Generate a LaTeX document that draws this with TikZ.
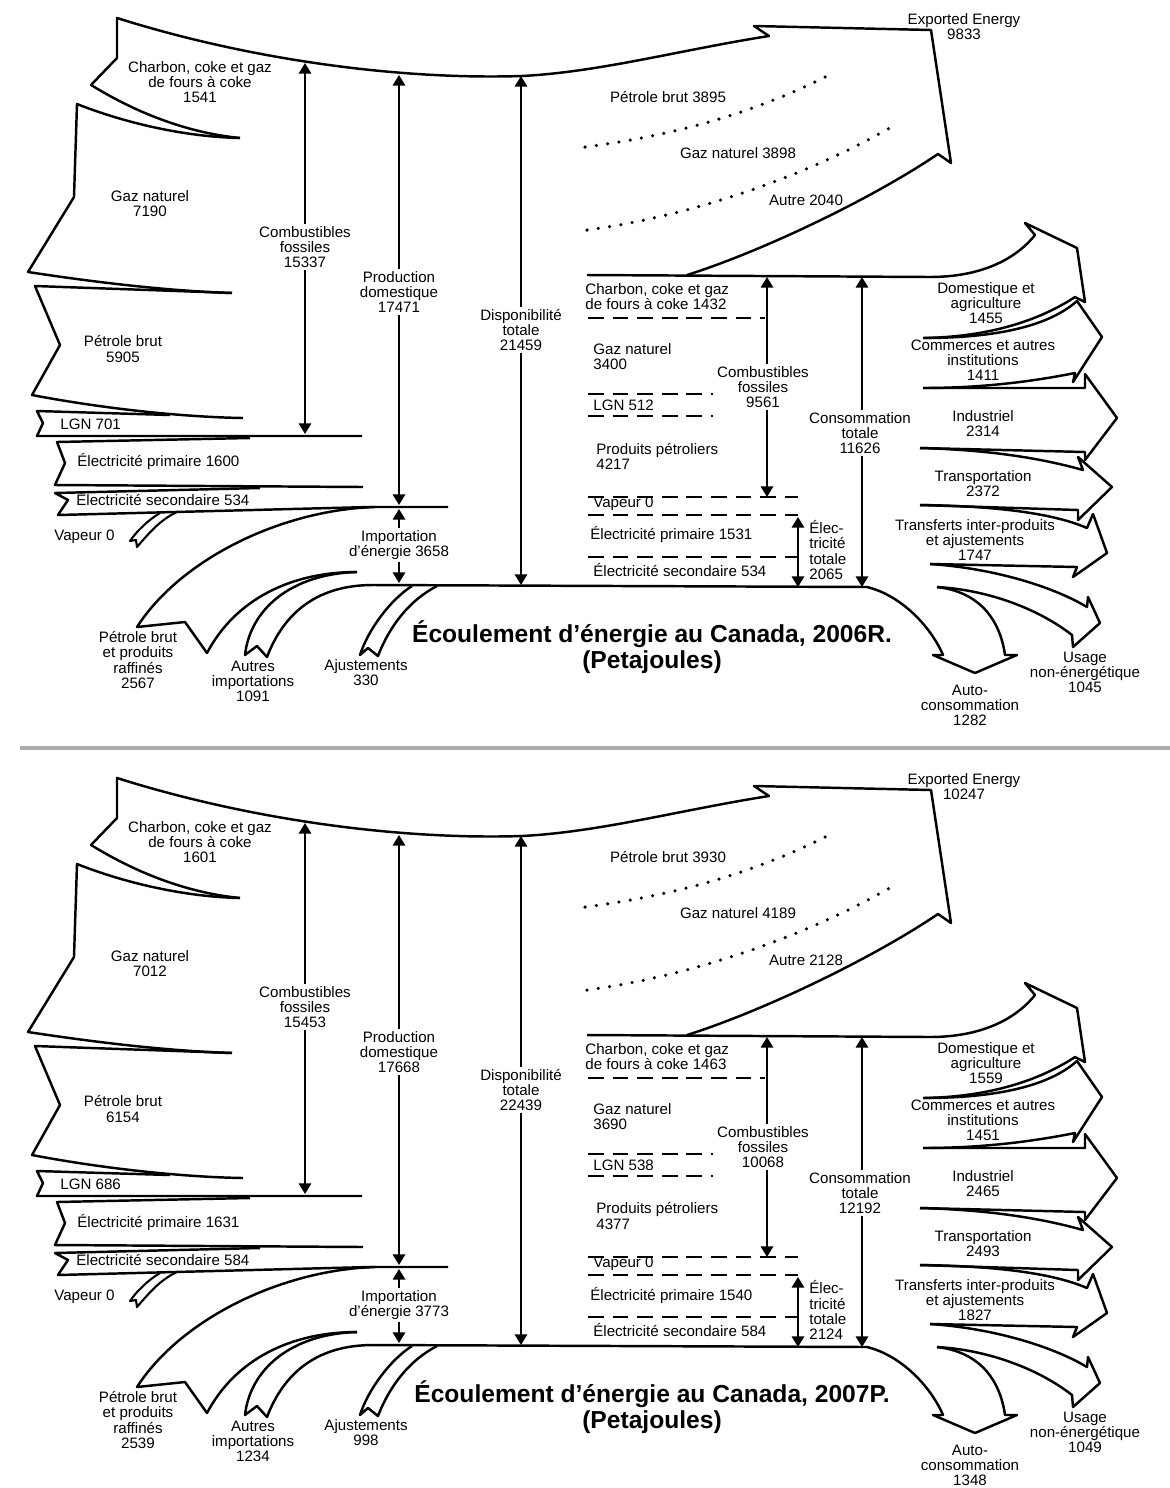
\documentclass[tikz,border=0pt]{standalone}
\usepackage{fontspec}
\setmainfont{Liberation Sans}
\usetikzlibrary{arrows.meta}
\newcommand\lbfont{\fontsize{8.6}{8.6}\selectfont}
\newcommand\ttlfont{\fontsize{14}{14.5}\selectfont\bfseries}
\tikzset{
 outl/.style={line width=1.4pt, line join=round},
 varr/.style={line width=1.1pt, {Triangle[length=6pt,width=7pt]}-{Triangle[length=6pt,width=7pt]}},
 dashln/.style={line width=1.2pt, dash pattern=on 9pt off 5pt},
 dotln/.style={line width=2pt, dash pattern=on 0pt off 6.5pt, line cap=round},
 lbl/.style={font=\lbfont, align=center, inner sep=1pt},
 lblw/.style={font=\lbfont, align=left, anchor=west, inner sep=0pt},
 bglbl/.style={lbl, fill=white, inner sep=1.5pt},
 ttl/.style={font=\ttlfont, align=center, inner sep=0pt},
}
\newcommand\drawpanel[2]{%
\begin{scope}[shift={(0,#1)}, name prefix=#2-]
 % top curve, Charbon inflow and exported arrow
 \draw[outl] (240,138) .. controls (190,133) and (140,115) .. (91,85) -- (117,58) -- (117,18)
   .. controls (250,60) and (400,80) .. (522,76) .. controls (600,72) and (680,50) .. (769,36)
   -- (754,26) -- (931,30) -- (951,163) -- (938,154)
   .. controls (870,200) and (760,252) .. (687,275);
 % Gaz naturel
 \draw[outl] (240,138) .. controls (190,137) and (130,125) .. (77,104) -- (74,197) -- (28,272) .. controls (100,283) and (170,291) .. (232,293);
 % Petrole brut
 \draw[outl] (232,293) .. controls (150,290) and (90,288) .. (35,286) -- (60,345) -- (32,395) .. controls (100,408) and (180,417) .. (243,418);
 % LGN
 \draw[outl] (170,415) -- (37,411) -- (43,423) -- (37,436) -- (362,436);
 % Electricite primaire
 \draw[outl] (250,438) -- (57,442) -- (65,463) -- (55,485) -- (363,487);
 % Electricite secondaire
 \draw[outl] (260,488) -- (55,493) -- (68,500) -- (58,515) -- (370,507) -- (448,507);
 % Vapeur
 \draw[outl, line width=1.2pt] (160,513) .. controls (148,520) and (136,532) .. (130,541) -- (136,540) -- (137,547) .. controls (150,532) and (160,520) .. (177,512);
 % Petrole brut et produits raffines
 \draw[outl] (375,507) .. controls (280,510) and (180,560) .. (137,627) -- (185,622) -- (207,653) .. controls (235,600) and (290,572) .. (357,572);
 % Autres importations
 \draw[outl] (357,572) .. controls (290,574) and (250,610) .. (245,655) -- (257,646) -- (267,657) .. controls (285,610) and (320,585) .. (373,585);
 % bottom line and auto-consommation
 \draw[outl] (373,585) -- (867,587) .. controls (900,595) and (930,625) .. (943,655) -- (933,655) -- (975,673) -- (1017,655) -- (1005,655) .. controls (1000,620) and (980,592) .. (937,587);
 % Ajustements
 \draw[outl] (412,586) .. controls (390,600) and (368,630) .. (360,655) -- (368,648) -- (378,656) .. controls (390,625) and (410,600) .. (437,586);
 % right main line and Domestique
 \draw[outl] (587,275) -- (930,277) .. controls (980,277) and (1015,260) .. (1035,235) -- (1025,223) -- (1077,248) -- (1085,302) -- (1075,297) .. controls (1040,320) and (990,337) .. (923,338);
 % Commerces
 \draw[outl] (923,338) .. controls (1000,338) and (1050,325) .. (1077,301) -- (1102,337) -- (1073,382) -- (1075,373) .. controls (1030,382) and (980,388) .. (923,388);
 % Industriel
 \draw[outl] (923,388) -- (1085,388) -- (1085,374) -- (1117,418) -- (1085,460) -- (1085,452) -- (920,448);
 % Transportation
 \draw[outl] (920,448) .. controls (990,450) and (1040,458) .. (1083,470) -- (1078,457) -- (1112,487) -- (1078,520) -- (1078,510) -- (920,505);
 % Transferts
 \draw[outl] (920,505) .. controls (990,506) and (1050,512) .. (1087,528) -- (1093,514) -- (1107,553) -- (1073,577) -- (1077,567) -- (930,564);
 % Usage non-energetique
 \draw[outl] (930,564) .. controls (990,568) and (1050,585) .. (1087,607) -- (1088,597) -- (1100,623) -- (1073,647) -- (1072,635) .. controls (1040,610) and (990,590) .. (937,587);
 % dotted separators in exports
 \draw[dotln] (585,147) .. controls (680,135) and (760,110) .. (827,76);
 \draw[dotln] (587,230) .. controls (700,215) and (820,170) .. (898,123);
 % dashed separators
 \draw[dashln] (588,318) -- (765,318);
 \draw[dashln] (588,394) -- (713,394);
 \draw[dashln] (588,416) -- (713,416);
 \draw[dashln] (588,497) -- (798,497);
 \draw[dashln] (588,515) -- (798,515);
 \draw[dashln] (588,557) -- (798,557);
 % arrow end points
 \coordinate (cft) at (305,63);  \coordinate (cfb) at (305,434);
 \coordinate (pdt) at (399,75);  \coordinate (pdb) at (399,505);
 \coordinate (imt) at (399,509); \coordinate (imb) at (399,583);
 \coordinate (dtt) at (521,76);  \coordinate (dtb) at (521,585);
 \coordinate (rct) at (767,277); \coordinate (rcb) at (767,497);
 \coordinate (ctt) at (862,277); \coordinate (ctb) at (862,587);
 \coordinate (ett) at (798,517); \coordinate (etb) at (798,587);
 \draw[varr] (cft) -- (cfb);
 \draw[varr] (pdt) -- (pdb);
 \draw[varr] (imt) -- (imb);
 \draw[varr] (dtt) -- (dtb);
 \draw[varr] (rct) -- (rcb);
 \draw[varr] (ctt) -- (ctb);
 \draw[varr] (ett) -- (etb);
 % labels on arrows
 \node[bglbl] (cfl) at (305,247) {Combustibles\\fossiles\\\vCF};
 \node[bglbl] (pdl) at (399,292) {Production\\domestique\\\vPD};
 \node[bglbl] (dtl) at (521,330) {Disponibilité\\totale\\\vDT};
 \node[bglbl] (iml) at (399,545) {Importation\\d’énergie \vImp};
 \node[bglbl] (rcl) at (763,387) {Combustibles\\fossiles\\\vRCF};
 \node[bglbl] (ctl) at (860,433) {Consommation\\totale\\\vCT};
 \node[lblw] (etl) at (809,550) {Élec-\\tricité\\totale\\\vET};
 % left labels
 \node[lbl] (lch) at (200,82) {Charbon, coke et gaz\\de fours à coke\\\vCharbon};
 \node[lbl] (lgz) at (150,204) {Gaz naturel\\\vGaz};
 \node[lbl] (lpb) at (123,349) {Pétrole brut\\\vPetrole};
 \node[lblw] (llg) at (60,424) {LGN \vLGN};
 \node[lblw] (lep) at (77,462) {Électricité primaire \vEprim};
 \node[lblw] (les) at (76,499) {Électricité secondaire \vEsec};
 \node[lblw] (lva) at (54,537) {Vapeur 0};
 \node[lbl] (lpr) at (138,660) {Pétrole brut\\et produits\\raffinés\\\vPBR};
 \node[lbl] (lai) at (253,681) {Autres\\importations\\\vAI};
 \node[lbl] (laj) at (366,673) {Ajustements\\\vAj};
 % export labels
 \node[lbl] (lex) at (964,27) {Exported Energy\\\vExp};
 \node[lbl] (xpb) at (668,97) {Pétrole brut \vXPet};
 \node[lbl] (xgz) at (738,153) {Gaz naturel \vXGaz};
 \node[lbl] (xau) at (806,200) {Autre \vXAut};
 % consumption by fuel
 \node[lblw] (rch) at (585,297) {Charbon, coke et gaz\\de fours à coke \vRCh};
 \node[lblw] (rgz) at (593,357) {Gaz naturel\\\vRGaz};
 \node[lblw] (rlg) at (593,405) {LGN \vRLGN};
 \node[lblw] (rpp) at (596,456) {Produits pétroliers\\\vRPP};
 \node[lblw] (rva) at (593,504) {Vapeur 0};
 \node[lblw] (rep) at (590,535) {Électricité primaire \vREp};
 \node[lblw] (res) at (593,570) {Électricité secondaire \vREs};
 % consumption by sector
 \node[lbl] (sdo) at (986,303) {Domestique et\\agriculture\\\vDom};
 \node[lbl] (sco) at (983,360) {Commerces et autres\\institutions\\\vCom};
 \node[lbl] (sin) at (983,424) {Industriel\\\vInd};
 \node[lbl] (str) at (983,484) {Transportation\\\vTra};
 \node[lbl] (stf) at (975,540) {Transferts inter-produits\\et ajustements\\\vTrf};
 \node[lbl] (sus) at (1085,672) {Usage\\non-énergétique\\\vUsa};
 \node[lbl] (sau) at (970,705) {Auto-\\consommation\\\vAuto};
 % title
 \node[ttl] (title) at (652,647) {Écoulement d’énergie au Canada, \vYear\\(Petajoules)};
\end{scope}}
\begin{document}
\begin{tikzpicture}[x=0.02cm, y=-0.02cm]
\useasboundingbox (0,0) rectangle (1170,1488);
\fill[white] (0,0) rectangle (1170,1488);
% ---- panel 2006
\def\vCharbon{1541}\def\vGaz{7190}\def\vPetrole{5905}\def\vLGN{701}\def\vEprim{1600}\def\vEsec{534}
\def\vCF{15337}\def\vPD{17471}\def\vDT{21459}\def\vImp{3658}\def\vPBR{2567}\def\vAI{1091}\def\vAj{330}
\def\vExp{9833}\def\vXPet{3895}\def\vXGaz{3898}\def\vXAut{2040}
\def\vRCh{1432}\def\vRGaz{3400}\def\vRLGN{512}\def\vRPP{4217}\def\vREp{1531}\def\vREs{534}
\def\vRCF{9561}\def\vCT{11626}\def\vET{2065}
\def\vDom{1455}\def\vCom{1411}\def\vInd{2314}\def\vTra{2372}\def\vTrf{1747}\def\vUsa{1045}\def\vAuto{1282}
\def\vYear{2006R.}
\drawpanel{0}{a}
% divider
\draw[gray!65, line width=2pt] (20,748) -- (1170,748);
% ---- panel 2007
\def\vCharbon{1601}\def\vGaz{7012}\def\vPetrole{6154}\def\vLGN{686}\def\vEprim{1631}\def\vEsec{584}
\def\vCF{15453}\def\vPD{17668}\def\vDT{22439}\def\vImp{3773}\def\vPBR{2539}\def\vAI{1234}\def\vAj{998}
\def\vExp{10247}\def\vXPet{3930}\def\vXGaz{4189}\def\vXAut{2128}
\def\vRCh{1463}\def\vRGaz{3690}\def\vRLGN{538}\def\vRPP{4377}\def\vREp{1540}\def\vREs{584}
\def\vRCF{10068}\def\vCT{12192}\def\vET{2124}
\def\vDom{1559}\def\vCom{1451}\def\vInd{2465}\def\vTra{2493}\def\vTrf{1827}\def\vUsa{1049}\def\vAuto{1348}
\def\vYear{2007P.}
\drawpanel{760}{b}
\end{tikzpicture}
\end{document}
